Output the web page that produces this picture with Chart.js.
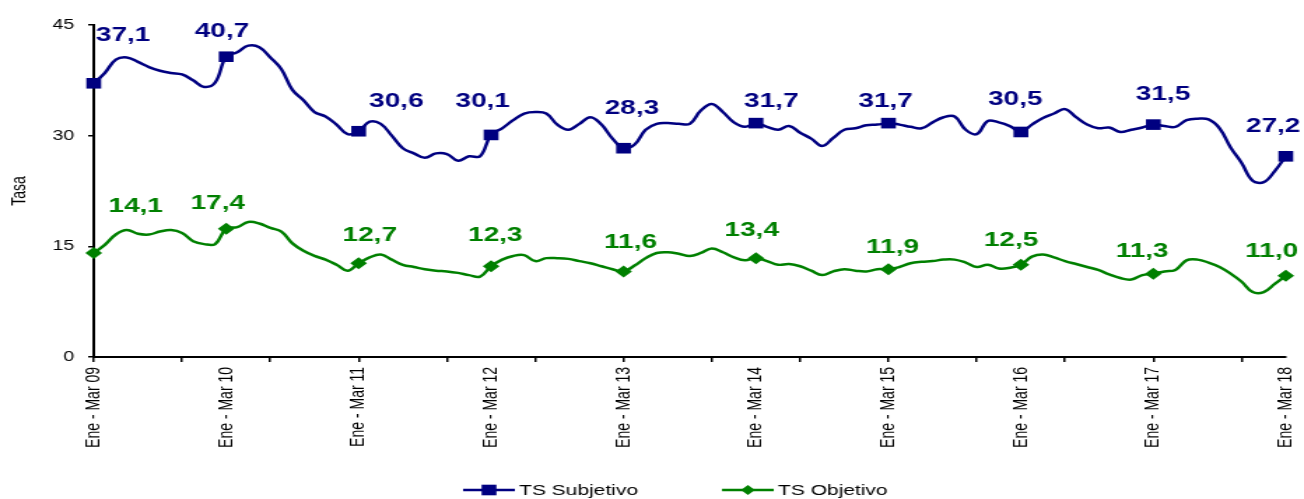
<!DOCTYPE html>
<html>
<head>
<meta charset="utf-8">
<script src="https://cdn.jsdelivr.net/npm/chart.js@4/dist/chart.umd.min.js"></script>
<style>
  html, body { margin: 0; padding: 0; background: #fff; overflow: hidden; }
  /* the reference is a horizontally stretched chart, so draw narrow and stretch */
  #chart { display: block; transform: scaleX(1.3991); transform-origin: 0 0; }
</style>
</head>
<body>
<canvas id="chart" width="932" height="499"></canvas>
<script>
// moving quarters, Ene-Mar 09 .. Ene-Mar 18
const meses = ["Ene", "Feb", "Mar", "Abr", "May", "Jun", "Jul", "Ago", "Sep", "Oct", "Nov", "Dic"];
const firstYear = 2009;
const nPoints = 109;

const tsSubjetivo = [
  37.1, 38.5, 40.3, 40.6, 40.0, 39.3, 38.8, 38.5, 38.3, 37.5, 36.6, 37.2,
  40.7, 41.3, 42.2, 42.0, 40.6, 39.0, 36.2, 34.8, 33.2, 32.6, 31.5, 30.2,
  30.6, 31.9, 31.6, 30.0, 28.3, 27.6, 27.0, 27.6, 27.5, 26.6, 27.2, 27.2,
  30.1, 31.0, 32.1, 33.0, 33.2, 33.0, 31.5, 30.8, 31.6, 32.5, 31.5, 29.6,
  28.3, 28.8, 30.8, 31.6, 31.7, 31.6, 31.6, 33.4, 34.3, 33.2, 31.8, 31.2,
  31.7, 31.2, 30.8, 31.3, 30.4, 29.6, 28.6, 29.7, 30.8, 31.0, 31.4, 31.5,
  31.7, 31.5, 31.2, 31.0, 31.8, 32.5, 32.6, 30.8, 30.2, 32.0, 31.8, 31.3,
  30.5, 31.5, 32.4, 33.0, 33.6, 32.5, 31.5, 31.0, 31.1, 30.5, 30.8, 31.1,
  31.5, 31.3, 31.2, 32.1, 32.3, 32.2, 31.0, 28.4, 26.3, 23.9, 23.7, 25.2,
  27.2
];

const tsObjetivo = [
  14.1, 15.2, 16.6, 17.2, 16.7, 16.6, 17.0, 17.2, 16.8, 15.7, 15.3, 15.3,
  17.4, 17.6, 18.3, 18.1, 17.5, 17.0, 15.4, 14.4, 13.7, 13.2, 12.5, 11.7,
  12.7, 13.5, 13.9, 13.2, 12.5, 12.2, 11.9, 11.7, 11.6, 11.4, 11.1, 10.9,
  12.3, 13.2, 13.7, 13.8, 13.0, 13.4, 13.4, 13.3, 13.0, 12.7, 12.3, 11.9,
  11.6, 12.4, 13.4, 14.1, 14.2, 14.0, 13.7, 14.1, 14.7, 14.2, 13.5, 13.1,
  13.4, 13.0, 12.5, 12.6, 12.3, 11.7, 11.1, 11.6, 11.9, 11.7, 11.6, 11.9,
  11.9, 12.2, 12.7, 12.9, 13.0, 13.2, 13.2, 12.8, 12.2, 12.5, 12.0, 12.1,
  12.5, 13.6, 13.9, 13.5, 13.0, 12.6, 12.2, 11.8, 11.2, 10.7, 10.5, 11.1,
  11.3, 11.6, 11.8, 13.1, 13.2, 12.8, 12.2, 11.3, 10.2, 8.8, 8.8, 9.9,
  11.0
];

// where the value labels sit relative to their marker (px), one pair per Ene-Mar point
const subjLabelPos = [[21, -48], [-3, -25], [27, -30], [-6, -33], [6, -40],
                      [11, -22], [-2, -22], [-4, -32], [7, -30], [-9, -30]];
const objLabelPos = [[30, -46], [-6, -25], [8, -28], [3, -31], [5, -29],
                     [-3, -28], [3, -22], [-7, -24], [-8, -22], [-10, -24]];

const categories = [];
for (let i = 0; i < nPoints; i++) {
  const endMonth = i + 2;
  const yy = String((firstYear + Math.floor(endMonth / 12)) % 100).padStart(2, "0");
  categories.push(meses[i % 12] + " - " + meses[endMonth % 12] + " " + yy);
}

const FONT = '"Liberation Sans", Arial, sans-serif';
Chart.defaults.font.family = FONT;
Chart.defaults.color = "#000";

function fmt(v) {
  return v.toFixed(1).replace(".", ",");
}

function drawMarker(ctx, style, x, y, r, color) {
  ctx.fillStyle = color;
  ctx.beginPath();
  if (style === "rect") {
    const s = r * Math.SQRT1_2;
    ctx.rect(x - s, y - s, 2 * s, 2 * s);
  } else {
    ctx.moveTo(x, y - r);
    ctx.lineTo(x + r, y);
    ctx.lineTo(x, y + r);
    ctx.lineTo(x - r, y);
    ctx.closePath();
  }
  ctx.fill();
}

const labelPlugin = {
  id: "valueLabels",
  afterDatasetsDraw(chart) {
    const ctx = chart.ctx;
    ctx.save();
    ctx.font = "bold 20px " + FONT;
    ctx.textAlign = "center";
    ctx.textBaseline = "middle";
    chart.data.datasets.forEach((ds, di) => {
      const meta = chart.getDatasetMeta(di);
      let k = 0;
      meta.data.forEach((pt, i) => {
        if (i % 12 !== 0) return;
        const off = ds.labelPos[k++] || [0, -25];
        ctx.fillStyle = ds.borderColor;
        ctx.fillText(fmt(ds.data[i]), pt.x + off[0], pt.y + off[1]);
      });
    });
    ctx.restore();
  },
  afterDraw(chart) {
    // legend: line sample with marker, then the name
    const ctx = chart.ctx;
    const area = chart.chartArea;
    ctx.save();
    ctx.font = "15px " + FONT;
    ctx.textBaseline = "middle";
    ctx.textAlign = "left";
    let x = (area.left + area.right) / 2 - 162;
    const y = 490;
    chart.data.datasets.forEach((ds) => {
      ctx.strokeStyle = ds.borderColor;
      ctx.lineWidth = 2.5;
      ctx.beginPath();
      ctx.moveTo(x, y);
      ctx.lineTo(x + 37, y);
      ctx.stroke();
      drawMarker(ctx, ds.pointStyle, x + 18.5, y, ds.pointStyle === "rect" ? 7.5 : 5, ds.borderColor);
      ctx.fillStyle = "#000";
      ctx.fillText(ds.label, x + 40, y + 1);
      x += 40 + ctx.measureText(ds.label).width + 60;
    });
    ctx.restore();
  }
};

const ctx = document.getElementById("chart").getContext("2d");
new Chart(ctx, {
  type: "line",
  data: {
    labels: categories,
    datasets: [
      {
        label: "TS Subjetivo",
        data: tsSubjetivo,
        borderColor: "#000080",
        backgroundColor: "#000080",
        borderWidth: 2.5,
        tension: 0.4,
        pointStyle: "rect",
        pointRadius: (c) => (c.dataIndex % 12 === 0 ? 7.5 : 0),
        pointBorderWidth: 0,
        clip: false,
        labelPos: subjLabelPos,
      },
      {
        label: "TS Objetivo",
        data: tsObjetivo,
        borderColor: "#008000",
        backgroundColor: "#008000",
        borderWidth: 2.5,
        tension: 0.4,
        pointStyle: "rectRot",
        pointRadius: (c) => (c.dataIndex % 12 === 0 ? 6 : 0),
        pointBorderWidth: 0,
        clip: false,
        labelPos: objLabelPos,
      },
    ],
  },
  options: {
    responsive: false,
    animation: false,
    events: [],
    layout: { padding: { top: 25, right: 13, bottom: 0, left: 0 } },
    plugins: {
      legend: { display: false },
      tooltip: { enabled: false },
    },
    scales: {
      x: {
        offset: false,
        border: { color: "#000", width: 2 },
        grid: {
          drawOnChartArea: false,
          tickLength: 5,
          lineWidth: 1.5,
          color: (c) => (c.index % 8 === 0 ? "#000" : "rgba(0,0,0,0)"),
        },
        ticks: {
          autoSkip: false,
          maxRotation: 90,
          minRotation: 90,
          padding: 5,
          font: { size: 14 },
          callback: (v, i) => (i % 12 === 0 ? categories[i] : ""),
        },
        afterFit: (s) => {
          s.height = 142;
          s.paddingLeft = 0;
          s.paddingRight = 0;
        },
      },
      y: {
        min: 0,
        max: 45,
        border: { color: "#000", width: 2 },
        grid: { drawOnChartArea: false, tickLength: 4, lineWidth: 1.5, color: "#000" },
        ticks: { stepSize: 15, padding: 10, font: { size: 14 } },
        title: { display: true, text: "Tasa", font: { size: 14 }, padding: { top: 6, bottom: 0 } },
        afterFit: (s) => { s.width = 67; },
      },
    },
  },
  plugins: [labelPlugin],
});
</script>
</body>
</html>
